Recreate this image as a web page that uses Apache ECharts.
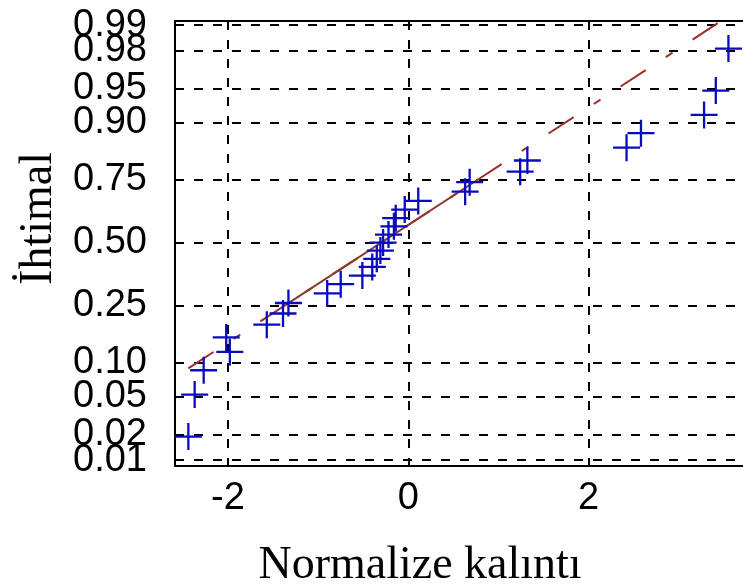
<!DOCTYPE html>
<html><head><meta charset="utf-8">
<script src="https://cdn.jsdelivr.net/npm/echarts@6/dist/echarts.min.js"></script>
<style>html,body{margin:0;padding:0;background:#fff}#c{width:743px;height:586px}</style>
</head><body><div id="c"></div>
<script>
// Normalized residuals (x), sorted
const residuals = [-2.44, -2.37, -2.27, -1.98, -2.02, -1.57, -1.39, -1.33, -0.90, -0.75,
  -0.51, -0.40, -0.35, -0.31, -0.28, -0.22, -0.16, -0.14, -0.04, 0.11,
  0.63, 0.68, 1.24, 1.32, 2.42, 2.58, 3.28, 3.41, 3.55];
// Probability of each point (y)
const probabilities = [0.019, 0.052, 0.086, 0.121, 0.155, 0.190, 0.224, 0.259, 0.293, 0.328,
  0.362, 0.397, 0.431, 0.466, 0.500, 0.534, 0.569, 0.603, 0.638, 0.672,
  0.707, 0.741, 0.776, 0.810, 0.845, 0.879, 0.914, 0.948, 0.981];
// Probability axis tick labels (split in two sets so crowded ones all show)
const probTickLabelsMain = ['0.01', '0.05', '0.10', '0.25', '0.50', '0.75', '0.90', '0.95', '0.99'];
const probTickLabelsExtra = ['0.02', '0.98'];
// X axis ticks
const xTickValues = [-2, 0, 2];
// Reference line (fitted normal): mean and sigma
const fitMu = -0.30;
const fitSigma = 1.59;
const quartileProbs = [0.25, 0.75];

// inverse normal CDF (probability-axis transform)
function probit(p) {
  const a = [-3.969683028665376e+01, 2.209460984245205e+02, -2.759285104469687e+02, 1.383577518672690e+02, -3.066479806614716e+01, 2.506628277459239e+00];
  const b = [-5.447609879822406e+01, 1.615858368580409e+02, -1.556989798598866e+02, 6.680131188771972e+01, -1.328068155288572e+01];
  const c = [-7.784894002430293e-03, -3.223964580411365e-01, -2.400758277161838e+00, -2.549732539343734e+00, 4.374664141464968e+00, 2.938163982698783e+00];
  const d = [7.784695709041462e-03, 3.224671290700398e-01, 2.445134137142996e+00, 3.754408661907416e+00];
  const pl = 0.02425, ph = 1 - pl;
  let q, r;
  if (p < pl) {
    q = Math.sqrt(-2 * Math.log(p));
    return (((((c[0]*q+c[1])*q+c[2])*q+c[3])*q+c[4])*q+c[5]) / ((((d[0]*q+d[1])*q+d[2])*q+d[3])*q+1);
  }
  if (p > ph) {
    q = Math.sqrt(-2 * Math.log(1 - p));
    return -(((((c[0]*q+c[1])*q+c[2])*q+c[3])*q+c[4])*q+c[5]) / ((((d[0]*q+d[1])*q+d[2])*q+d[3])*q+1);
  }
  q = p - 0.5; r = q * q;
  return (((((a[0]*r+a[1])*r+a[2])*r+a[3])*r+a[4])*r+a[5])*q / (((((b[0]*r+b[1])*r+b[2])*r+b[3])*r+b[4])*r+1);
}

const zMain = probTickLabelsMain.map(s => probit(parseFloat(s)));
const zExtra = probTickLabelsExtra.map(s => probit(parseFloat(s)));
const points = residuals.map((x, i) => [x, probit(probabilities[i])]);
const xMinData = Math.min.apply(null, residuals);
const xMaxData = Math.max.apply(null, residuals);
const fitLine = [xMinData, xMaxData].map(x => [x, (x - fitMu) / fitSigma]);
const solidLine = quartileProbs.map(p => { const z = probit(p); return [fitMu + fitSigma * z, z]; });

const Y_MIN = -2.39, Y_MAX = 2.37;
const gridStyle = { color: '#000', width: 2, type: [9, 10] };
const labelFont = { fontSize: 38, fontFamily: 'Liberation Sans', color: '#000' };
function probAxis(zs, labels, withName) {
  const ax = {
    type: 'value', min: Y_MIN, max: Y_MAX, position: 'left', offset: 0,
    axisLine: { show: false },
    axisTick: { show: false, customValues: zs },
    axisLabel: Object.assign({
      customValues: zs, interval: 0, margin: 28, hideOverlap: false, showMinLabel: true, showMaxLabel: true,
      formatter: v => { const i = zs.findIndex(z => Math.abs(z - v) < 1e-6); return i >= 0 ? labels[i] : ''; }
    }, labelFont),
    splitLine: { show: true, lineStyle: gridStyle }
  };
  if (withName) {
    ax.name = 'İhtimal';
    ax.nameLocation = 'middle';
    ax.nameGap = 104;
    ax.nameTextStyle = { fontFamily: 'Liberation Serif', fontSize: 46, color: '#000', padding: [0, 0, 0, 50] };
  }
  return ax;
}

const chart = echarts.init(document.getElementById('c'), null, { renderer: 'canvas' });
chart.setOption({
  animation: false,
  backgroundColor: '#fff',
  grid: { left: 175, top: 21, width: 594, height: 445, show: true, borderColor: '#000', borderWidth: 2,
    backgroundColor: 'transparent', containLabel: false, outerBoundsMode: 'none' },
  xAxis: {
    type: 'value', min: -2.588, max: 4,
    axisLine: { show: false },
    axisTick: { show: false, customValues: xTickValues },
    axisLabel: Object.assign({ customValues: xTickValues, interval: 0, margin: 14,
      hideOverlap: false, showMinLabel: true, showMaxLabel: true }, labelFont),
    splitLine: { show: true, lineStyle: gridStyle },
    name: 'Normalize kalıntı', nameLocation: 'middle', nameGap: 77,
    nameTextStyle: { fontFamily: 'Liberation Serif', fontSize: 46, color: '#000', padding: [0, 104, 0, 0] }
  },
  yAxis: [probAxis(zMain, probTickLabelsMain, true), probAxis(zExtra, probTickLabelsExtra, false)],
  series: [
    { type: 'line', data: fitLine, showSymbol: false, symbol: 'none', z: 2, clip: true,
      lineStyle: { color: '#9b2d2d', width: 2, type: [30, 24, 8, 24] } },
    { type: 'line', data: solidLine, showSymbol: false, symbol: 'none', z: 2, clip: true,
      lineStyle: { color: '#8a3a2a', width: 2, type: 'solid' } },
    { type: 'scatter', data: points, z: 3,
      symbol: 'path://M-1.1,-13h2.2v26h-2.2z M-13,-1.1h26v2.2h-26z', symbolSize: 27,
      itemStyle: { color: '#0a0ac0', opacity: 1 } }
  ]
});
</script></body></html>
